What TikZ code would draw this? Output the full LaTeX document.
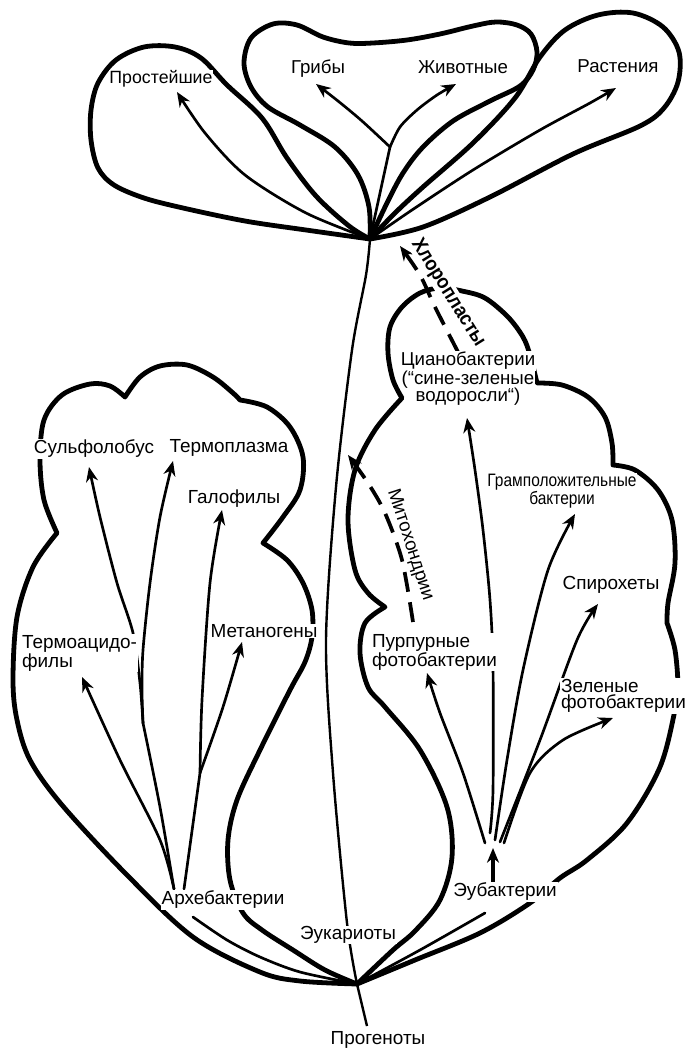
\documentclass[tikz,border=0pt]{standalone}
\usepackage{fontspec}
\setmainfont{Liberation Sans}
\newfontfamily\narrowfont[FakeStretch=0.86]{Liberation Sans}
\newfontfamily\chlorfont[FakeStretch=0.9]{Liberation Sans}
\usetikzlibrary{arrows.meta}
\begin{document}
\begin{tikzpicture}[x=0.75pt,y=-0.75pt,
  outline/.style={line width=3.6pt, line join=round, line cap=round},
  branch/.style={line width=2.0pt, line cap=round},
  stemline/.style={line width=1.8pt},
  arr/.style={branch, -{Stealth[length=11pt,width=9pt,inset=3.5pt]}},
  darr/.style={line width=2.8pt, dash pattern=on 15pt off 8pt, -{Stealth[length=11pt,width=9pt,inset=3.5pt]}},
  lab/.style={font=\fontsize{14.2}{12.5}\selectfont, fill=white, inner sep=0.6pt, align=center},
  toplab/.style={lab, font=\fontsize{14}{12.5}\selectfont}
]
\useasboundingbox (0,0) rectangle (685,1049);
\fill[white] (0,0) rectangle (685,1049);

% roots
\coordinate (R1) at (370,239);
\coordinate (R2) at (357,984);
\coordinate (B) at (390,147);

% ---------- top petals ----------
\draw[outline] plot[smooth, tension=0.55] coordinates {(R1) (306,230) (245,221) (183,208) (144,198) (114,185) (98,168) (91,140) (91,110) (98,83) (116,60) (144,47) (175,47) (201,58) (227,85) (262,118) (287,158) (316,196) (349,226) (R1)};
\draw[outline] plot[smooth, tension=0.55] coordinates {(R1) (369,207) (358,175) (335,147) (300,125) (268,107) (251,87) (244,63) (251,38) (273,24) (297,25) (323,37) (349,43) (373,43) (407,40) (440,34) (473,26) (496,22) (517,25) (531,34) (537,52) (533,70) (520,86) (490,101) (453,121) (423,147) (403,173) (387,203) (R1)};
\draw[outline] plot[smooth, tension=0.55] coordinates {(R1) (395,213) (423,187) (473,143) (515,98) (540,57) (565,30) (598,15) (633,13) (663,27) (679,52) (678,82) (664,108) (640,126) (573,154) (490,197) (423,227) (R1)};

% top arrows
\draw[arr] plot[smooth] coordinates {(R1) (306,213) (245,175) (205,133) (177,92)};
\draw[branch] (R1) -- (B);
\draw[arr] plot[smooth] coordinates {(B) (362,121) (338,101) (316,84)};
\draw[arr] plot[smooth] coordinates {(B) (400,127) (417,110) (437,95) (456,84)};
\draw[arr] plot[smooth] coordinates {(R1) (412,210) (473,170) (540,130) (590,103) (616,88)};

% ---------- stem ----------
\draw[stemline] plot[smooth] coordinates {(R1) (366,275) (352,350) (336,487) (326,640) (333,773) (347,923) (R2)};
\draw[stemline] (R2) -- (367,1026);

% ---------- archaea petal ----------
\draw[outline] plot[smooth, tension=0.55] coordinates {(R2) (300,981) (260,972) (193,937) (127,875) (62,805) (30,760) (17,720) (13,680) (17,617) (33,567) (57,533)}
  -- plot[smooth, tension=0.55] coordinates {(57,533) (44,500) (40,460) (44,420) (62,395) (90,384) (110,386) (125,397)}
  -- plot[smooth, tension=0.55] coordinates {(125,397) (140,377) (160,366) (187,365) (213,377) (233,393) (240,400)}
  -- plot[smooth, tension=0.55] coordinates {(240,400) (267,407) (290,427) (303,457) (300,490) (283,517) (263,543)}
  -- plot[smooth, tension=0.55] coordinates {(263,543) (287,560) (303,583) (312,610) (312,637) (305,662) (290,690) (260,750) (237,800) (228,840) (230,880) (243,913) (262,930) (293,950) (325,970) (R2)};

% ---------- eubacteria petal ----------
\draw[outline] plot[smooth, tension=0.55] coordinates {(R2) (393,950) (415,931) (440,900) (452,857) (447,807) (420,750) (385,707) (368,687) (360,653) (365,623) (385,607)}
  -- plot[smooth, tension=0.55] coordinates {(385,607) (368,593) (355,570) (348,520) (355,470) (375,430) (402,398)}
  -- plot[smooth, tension=0.55] coordinates {(402,398) (393,380) (388,353) (390,327) (402,307) (420,293) (440,288) (462,291) (485,298) (508,317) (523,337) (530,355) (537,383)}
  -- plot[smooth, tension=0.55] coordinates {(537,383) (562,385) (588,397) (605,417) (612,443) (613,465)}
  -- plot[smooth, tension=0.55] coordinates {(613,465) (635,470) (658,490) (672,520) (675,563) (668,603) (667,623)}
  -- plot[smooth, tension=0.55] coordinates {(667,623) (675,650) (678,687) (675,710) (660,767) (627,823) (587,860) (560,878) (530,903) (480,933) (415,960) (R2)};

% ---------- archaea branches ----------
\coordinate (A1) at (174,889);
\coordinate (A2) at (184,889);
\coordinate (J1) at (143,723);
\coordinate (J2) at (200,773);
\draw[arr] plot[smooth] coordinates {(A1) (160,840) (120,760) (82,677)};
\draw[branch] plot[smooth] coordinates {(A1) (160,807) (J1)};
\draw[arr] plot[smooth] coordinates {(J1) (140,683) (133,633) (117,583) (100,517) (89,467)};
\draw[arr] plot[smooth] coordinates {(J1) (142,690) (143,650) (150,583) (160,517) (173,461)};
\draw[branch] (A2) -- (J2);
\draw[arr] plot[smooth] coordinates {(J2) (202,700) (210,583) (222,510)};
\draw[arr] plot[smooth] coordinates {(J2) (223,707) (242,642)};
\draw[branch] plot[smooth] coordinates {(193,917) (227,940) (260,957) (300,972) (R2)};

% ---------- eubacteria branches ----------
\coordinate (E0) at (493,848);
\draw[arr, line width=2.6pt] (493,882) -- (E0);
\draw[arr] plot[smooth] coordinates {(485,843) (463,773) (440,713) (427,673)};
\draw[arr] plot[smooth] coordinates {(490,833) (493,790) (493,667) (490,600) (483,530) (475,470) (467,418)};
\draw[arr] plot[smooth] coordinates {(495,840) (507,760) (523,670) (548,570) (575,514)};
\draw[arr] plot[smooth] coordinates {(500,842) (540,740) (577,640) (598,604)};
\draw[arr] plot[smooth] coordinates {(504,843) (530,773) (563,740) (613,718)};
\draw[branch] plot[smooth] coordinates {(485,913) (420,950) (R2)};

% ---------- endosymbiosis ----------
\draw[darr] plot[smooth] coordinates {(413,622) (402,560) (385,513) (368,483) (348,455)};
\draw[darr] plot[smooth] coordinates {(458,352) (435,307) (420,275) (400,246)};

% ---------- labels ----------
\node[toplab, font=\fontsize{13.3}{12.5}\selectfont] (prost) at (161,79) {Простейшие};
\node[toplab] (grib) at (318,69) {Грибы};
\node[toplab] (zhiv) at (463,67) {Животные};
\node[toplab] (rast) at (618,66) {Растения};
\node[lab] (sulf) at (94,449) {Сульфолобус};
\node[lab] (termopl) at (229,448) {Термоплазма};
\node[lab] (galo) at (234,499) {Галофилы};
\node[lab] (metan) at (264,631) {Метаногены};
\node[lab, align=left, anchor=north west] (termoac) at (21,634) {Термоацидо-\\филы};
\node[lab] (arch) at (223,900) {Архебактерии};
\node[lab] (euk) at (348,935) {Эукариоты};
\node[lab] (prog) at (378,1040) {Прогеноты};
\node[lab] (eub) at (505,892) {Эубактерии};
\node[lab, align=left, anchor=north west] (purp) at (371,633) {Пурпурные\\фотобактерии};
\node[lab, align=left, anchor=north west] (green) at (560,678) {Зеленые\\фотобактерии};
\node[lab] (spiro) at (611,585) {Спирохеты};
\node[lab, font=\narrowfont\fontsize{13.5}{12.5}\selectfont] (gram) at (562,491) {Грамположительные\\бактерии};
\node[lab, font=\fontsize{14}{13}\selectfont] (cyan1) at (468,361) {Цианобактерии};
\node[lab, font=\fontsize{14}{13}\selectfont] (cyan2) at (468,380) {(“сине-зеленые};
\node[lab, font=\fontsize{14}{13}\selectfont] (cyan3) at (468,397) {водоросли“)};
\node[lab, fill=none, font=\fontsize{14}{13}\selectfont, rotate=-72] (mito) at (410,545) {Митохондрии};
\node[lab, font=\chlorfont\bfseries\fontsize{15}{15}\selectfont, rotate=-58] (chlor) at (448,293) {Хлоропласты};
\end{tikzpicture}
\end{document}
